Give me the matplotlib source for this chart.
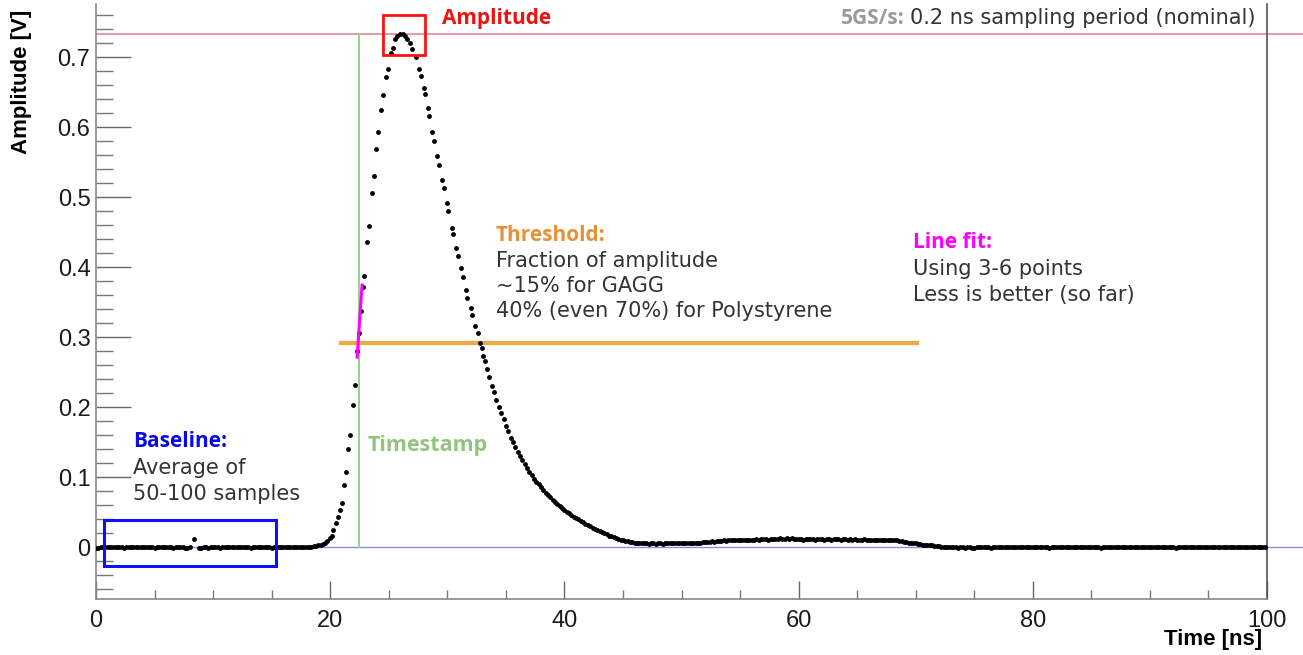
import matplotlib
matplotlib.use("Agg")
import matplotlib.pyplot as plt
from matplotlib.patches import Rectangle
from matplotlib.ticker import MultipleLocator, FormatStrFormatter
import numpy as np

nan = np.nan

# baseline before the pulse, 0.2 ns sampling starting at 0 ns
v_pre = [
    -0.001, -0.001, 0.000, 0.000, 0.001, 0.001, 0.000, 0.000, 0.001, 0.000,
    0.000, 0.000, -0.001, 0.000, 0.001, 0.001, 0.000, 0.000, 0.000, 0.001,
    0.001, 0.000, 0.000, 0.000, 0.000, -0.001, 0.000, 0.000, 0.000, 0.001,
    0.000, 0.000, 0.000, -0.001, 0.000, 0.000, 0.001, 0.000, -0.001, -0.001,
    0.000, nan, 0.012, nan, -0.001, -0.001, 0.000, 0.000, -0.001, 0.000,
    0.000, 0.000, 0.000, -0.001, 0.000, 0.000, 0.001, 0.000, 0.000, 0.000,
    0.000, 0.001, 0.000, 0.000, 0.000, 0.000, -0.001, 0.000, 0.000, 0.001,
    0.000, 0.000, 0.000, 0.000, 0.000, -0.001, 0.000, 0.000, 0.000, 0.000,
    0.000, 0.001, 0.000, 0.000, 0.000, 0.001, 0.001, 0.000, 0.000, 0.000,
    0.000, 0.001, 0.001, 0.002, 0.002, 0.003, 0.004, 0.005,
]

# pulse samples (interleaved timing)
t_pulse = [
    19.55, 19.75, 19.95, 20.13, 20.27, 20.50, 20.64, 20.84, 20.98, 21.20,
    21.35, 21.55, 21.69, 21.98, 22.12, 22.31, 22.49, 22.66, 22.83, 22.91,
    23.17, 23.31, 23.57, 23.71, 23.94, 24.08, 24.34, 24.51, 24.77, 24.91,
    25.19, 25.36, 25.53, 25.73, 25.96, 26.18, 26.41, 26.59, 26.81, 26.96,
    27.33, 27.58, 27.73, 27.98, 28.09, 28.33, 28.47, 28.72, 28.89, 29.15,
    29.32, 29.57, 29.72, 29.95, 30.09, 30.37, 30.51, 30.77, 30.91, 31.20,
    31.34, 31.60, 31.71, 32.00, 32.11, 32.39, 32.60, 32.80, 32.94, 33.08,
]
v_pulse = [
    0.006, 0.009, 0.013, 0.016, 0.025, 0.035, 0.044, 0.054, 0.064, 0.089,
    0.108, 0.140, 0.160, 0.204, 0.232, 0.280, 0.306, 0.338, 0.372, 0.388,
    0.436, 0.459, 0.507, 0.530, 0.569, 0.593, 0.625, 0.646, 0.672, 0.684,
    0.707, 0.714, 0.726, 0.731, 0.734, 0.734, 0.731, 0.727, 0.720, 0.712,
    0.701, 0.684, 0.674, 0.657, 0.648, 0.628, 0.616, 0.594, 0.581, 0.559,
    0.547, 0.525, 0.514, 0.492, 0.480, 0.457, 0.448, 0.428, 0.417, 0.399,
    0.386, 0.368, 0.356, 0.342, 0.332, 0.316, 0.307, 0.292, 0.285, 0.273,
]

# tail after the pulse, 0.2 ns sampling starting at 33.2 ns
v_post = [
    0.266, 0.255, 0.244, 0.231, 0.222, 0.211, 0.201, 0.192, 0.183, 0.174,
    0.166, 0.157, 0.150, 0.143, 0.136, 0.130, 0.125, 0.119, 0.113, 0.108,
    0.103, 0.098, 0.094, 0.090, 0.086, 0.082, 0.078, 0.075, 0.072, 0.068,
    0.065, 0.062, 0.059, 0.057, 0.054, 0.051, 0.049, 0.047, 0.044, 0.042,
    0.040, 0.038, 0.036, 0.034, 0.032, 0.030, 0.028, 0.026, 0.025, 0.023,
    0.022, 0.020, 0.019, 0.017, 0.016, 0.015, 0.013, 0.012, 0.011, 0.010,
    0.009, 0.009, 0.008, 0.008, 0.007, 0.007, 0.006, 0.006, 0.006, 0.006,
    0.005, 0.006, 0.006, 0.005, 0.006, 0.006, 0.005, 0.006, 0.006, 0.006,
    0.006, 0.007, 0.006, 0.006, 0.006, 0.007, 0.006, 0.007, 0.007, 0.007,
    0.006, 0.007, 0.007, 0.008, 0.008, 0.008, 0.008, 0.009, 0.008, 0.009,
    0.009, 0.009, 0.010, 0.009, 0.010, 0.010, 0.010, 0.010, 0.011, 0.010,
    0.011, 0.011, 0.010, 0.011, 0.011, 0.011, 0.012, 0.011, 0.012, 0.012,
    0.012, 0.011, 0.012, 0.012, 0.012, 0.012, 0.013, 0.012, 0.012, 0.013,
    0.012, 0.013, 0.012, 0.012, 0.012, 0.012, 0.011, 0.012, 0.012, 0.012,
    0.012, 0.011, 0.012, 0.012, 0.012, 0.011, 0.012, 0.012, 0.011, 0.012,
    0.012, 0.012, 0.011, 0.012, 0.012, 0.011, 0.012, 0.011, 0.012, 0.011,
    0.011, 0.011, 0.012, 0.011, 0.011, 0.011, 0.011, 0.010, 0.011, 0.011,
    0.011, 0.010, 0.010, 0.011, 0.010, 0.010, 0.010, 0.009, 0.009, 0.008,
    0.008, 0.007, 0.007, 0.006, 0.006, 0.005, 0.005, 0.004, 0.004, 0.003,
    0.003, 0.003, 0.002, 0.002, 0.002, 0.001, 0.001, 0.001, 0.000, 0.001,
    0.000, 0.000, -0.001, 0.000, 0.000, -0.001, 0.000, 0.000, -0.001, -0.001,
    0.000, 0.001, 0.000, 0.000, 0.001, 0.000, -0.001, 0.000, 0.000, 0.001,
    0.001, 0.000, 0.000, 0.000, 0.001, 0.001, 0.000, 0.000, 0.000, 0.000,
    0.000, 0.000, 0.001, 0.001, 0.000, 0.000, 0.000, 0.001, 0.000, 0.000,
    0.000, -0.001, 0.000, 0.000, 0.000, 0.001, 0.001, 0.000, 0.000, 0.000,
    0.001, 0.001, 0.000, 0.000, 0.001, 0.000, 0.000, 0.000, 0.001, 0.001,
    0.001, 0.000, 0.000, -0.001, 0.000, 0.000, 0.000, 0.001, 0.000, 0.000,
    0.000, 0.000, 0.001, 0.001, 0.001, 0.000, 0.000, 0.000, 0.001, 0.000,
    0.000, 0.001, 0.000, 0.000, 0.000, 0.001, 0.001, 0.001, 0.000, 0.000,
    0.000, 0.000, 0.000, 0.001, 0.000, -0.001, 0.000, 0.000, 0.001, 0.000,
    0.001, 0.001, 0.000, 0.000, 0.000, 0.001, 0.000, 0.000, 0.001, 0.001,
    0.000, 0.000, 0.000, 0.001, 0.001, 0.000, 0.000, 0.001, 0.000, 0.000,
    0.001, 0.000, 0.000, 0.000, 0.001, 0.001, 0.000, 0.000, 0.000, 0.001,
    0.001, 0.000, 0.000, 0.001,
]

amplitude = 0.734
threshold = 0.2926
t_stamp = 22.42
fit_t = [22.30, 22.72]
fit_v = [0.272, 0.375]

t_pre = 0.2 * np.arange(len(v_pre))
t_post = 33.2 + 0.2 * np.arange(len(v_post))

fig = plt.figure(figsize=(13.03, 6.55), dpi=100)
ax = fig.add_axes([0.07368, 0.0855, 0.8987, 0.9084])
ax.set_xlim(0, 100)
ax.set_ylim(-0.0736, 0.7764)

# reference lines
x_right = 100 + (1303 - 1267) / 11.71
ax.plot([0, x_right], [amplitude, amplitude], color="#dc8a93", lw=1.2, clip_on=False, zorder=1)
ax.plot([0, x_right], [0, 0], color="#8a8aee", lw=1.0, clip_on=False, zorder=1)
ax.plot([t_stamp, t_stamp], [0, amplitude], color="#93d58a", lw=1.4, zorder=1)
ax.plot([20.9, 70.1], [threshold, threshold], color="#f0a840", lw=3.0, zorder=2)

# waveform
for tt, vv in ((t_pre, v_pre), (t_pulse, v_pulse), (t_post, v_post)):
    ax.plot(tt, vv, "o", color="black", ms=3.5, mec="none", zorder=3)

ax.plot(fit_t, fit_v, color="#ff00ff", lw=2.2, zorder=4)

ax.add_patch(Rectangle((24.51, 0.704), 3.59, 0.057, fill=False, ec="#ff1010", lw=2.0, zorder=5))
ax.add_patch(Rectangle((0.71, -0.027), 14.66, 0.066, fill=False, ec="#1010f0", lw=2.2, zorder=5))

# axes styling, ROOT-like
ax.spines["top"].set_visible(False)
ax.spines["left"].set_color("#888888")
ax.spines["bottom"].set_color("#888888")
ax.spines["right"].set_color("#555555")
for s in ax.spines.values():
    s.set_linewidth(1.2)

ax.xaxis.set_major_locator(MultipleLocator(20))
ax.xaxis.set_minor_locator(MultipleLocator(5))
ax.yaxis.set_major_locator(MultipleLocator(0.1))
ax.yaxis.set_minor_locator(MultipleLocator(0.02))
ax.yaxis.set_major_formatter(FormatStrFormatter("%g"))
ax.tick_params(axis="y", which="major", direction="in", length=25, width=1.0, color="#666666",
               labelsize=17, pad=4, right=False)
ax.tick_params(axis="y", which="minor", direction="in", length=12.5, width=1.0, color="#777777", right=False)
ax.tick_params(axis="x", which="major", direction="in", length=13, width=1.0, color="#666666",
               labelsize=17, pad=8, top=False)
ax.tick_params(axis="x", which="minor", direction="in", length=6.5, width=1.0, color="#777777", top=False)
for lab in ax.get_xticklabels() + ax.get_yticklabels():
    lab.set_fontfamily("Liberation Sans")
    lab.set_color("#1a1a1a")

fig.text(22 / 1303, 1 - 10 / 655, "Amplitude [V]", rotation=90, ha="center", va="top",
         fontsize=16, fontweight="bold", family="Liberation Sans")
fig.text(1262 / 1303, 1 - 640 / 655, "Time [ns]", ha="right", va="center",
         fontsize=16, fontweight="bold", family="Liberation Sans")

# annotations
bold = "Open Sans"
reg = "DejaVu Sans"
body = "#333333"
ax.text(29.55, 0.755, "Amplitude", color="#ee1111", fontsize=15, fontweight="bold", family=bold, va="center")
ax.text(63.6, 0.756, "5GS/s:", color="#9a9a9a", fontsize=15, fontweight="bold", family=bold, va="center")
ax.text(99.05, 0.756, "0.2 ns sampling period (nominal)", color=body, fontsize=15, family=reg,
        ha="right", va="center")

ax.text(34.16, 0.445, "Threshold:", color="#e69138", fontsize=15, fontweight="bold", family=bold, va="center")
for i, s in enumerate(["Fraction of amplitude", "~15% for GAGG", "40% (even 70%) for Polystyrene"]):
    ax.text(34.16, 0.409 - i * 0.0357, s, color=body, fontsize=15, family=reg, va="center")

ax.text(69.77, 0.436, "Line fit:", color="#ff00ff", fontsize=15, fontweight="bold", family=bold, va="center")
for i, s in enumerate(["Using 3-6 points", "Less is better (so far)"]):
    ax.text(69.77, 0.398 - i * 0.0372, s, color=body, fontsize=15, family=reg, va="center")

ax.text(3.16, 0.151, "Baseline:", color="#0a0ae6", fontsize=15, fontweight="bold", family=bold, va="center")
for i, s in enumerate(["Average of", "50-100 samples"]):
    ax.text(3.16, 0.114 - i * 0.0372, s, color=body, fontsize=15, family=reg, va="center")

ax.text(23.23, 0.146, "Timestamp", color="#93c47d", fontsize=15.5, fontweight="bold", family=bold, va="center")

fig.savefig("out.png", dpi=100)
